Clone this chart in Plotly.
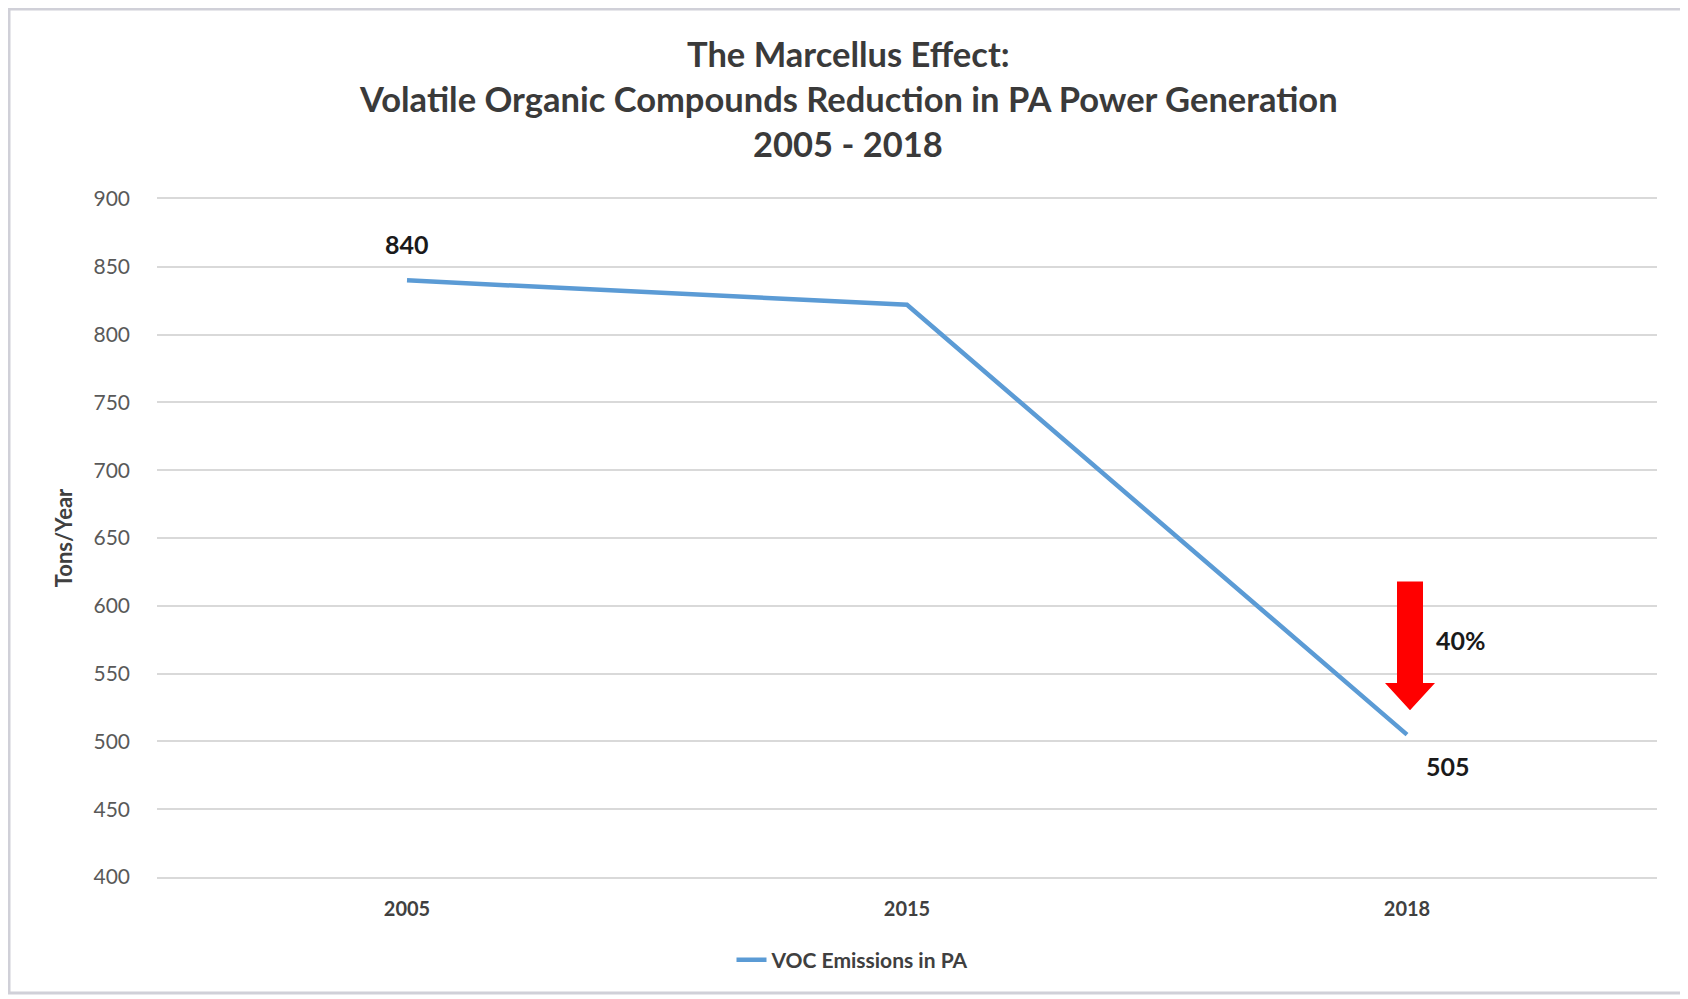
import plotly.graph_objects as go

years = ["2005", "2015", "2018"]
voc_tons = [840, 822, 505]
series_name = "VOC Emissions in PA"
title_lines = ["The Marcellus Effect:",
               "Volatile Organic Compounds Reduction in PA Power Generation",
               "2005 - 2018"]
y_ticks = [400, 450, 500, 550, 600, 650, 700, 750, 800, 850, 900]
reduction_label = "40%"
reduction_label_y = 575
arrow_top, arrow_neck, arrow_tip = 618, 543, 523

FONT = "Lato"
OFF = 8  # page body margin
W, H = 1688, 999
# desired plot area in page pixels: x 157..1657, y 199..877
L, T = 157 - OFF, 199 - OFF
R = W - (1657 - OFF)
B = H - (877 - OFF)
pw, ph = W - L - R, H - T - B


def pgy(py):
    return (H - B - (py - OFF)) / ph


def pgx(px):
    return ((px - OFF) - L) / pw


fig = go.Figure()
fig.add_trace(go.Scatter(
    x=years, y=voc_tons, mode="lines", name=series_name,
    line=dict(color="#5B9BD5", width=4.5),
))

annotations = []
for line, py in zip(title_lines, [54, 99, 144]):
    annotations.append(dict(text=f"<b>{line}</b>", xref="paper", yref="paper",
                            x=pgx(848), y=pgy(py),
                            xanchor="center", yanchor="middle", showarrow=False,
                            font=dict(family=FONT, size=34.5, color="#3a3a3a")))
i0, i2 = 0, len(years) - 1
annotations.append(dict(text=f"<b>{voc_tons[i0]}</b>", x=i0, y=voc_tons[i0],
                        yshift=36, showarrow=False,
                        font=dict(family=FONT, size=25, color="#1a1a1a")))
annotations.append(dict(text=f"<b>{voc_tons[i2]}</b>", x=i2, y=voc_tons[i2],
                        xshift=41, yshift=-31, showarrow=False,
                        font=dict(family=FONT, size=25, color="#1a1a1a")))
annotations.append(dict(text=f"<b>{reduction_label}</b>", x=i2, y=reduction_label_y,
                        xshift=54, showarrow=False,
                        font=dict(family=FONT, size=25, color="#1a1a1a")))

# red down arrow next to the 2018 point (category index 2)
cx = i2 + 0.006
sw, hw = 0.026, 0.05
path = (f"M {cx-sw} {arrow_top} L {cx+sw} {arrow_top} L {cx+sw} {arrow_neck} "
        f"L {cx+hw} {arrow_neck} L {cx} {arrow_tip} L {cx-hw} {arrow_neck} "
        f"L {cx-sw} {arrow_neck} Z")
shapes = [
    dict(type="path", xref="x", yref="y", path=path,
         fillcolor="#FF0000", line=dict(width=0)),
    dict(type="rect", xref="paper", yref="paper",
         x0=pgx(9), x1=pgx(1686), y0=pgy(993), y1=pgy(9),
         line=dict(color="#D0D0D8", width=3), layer="below"),
]

fig.update_layout(
    width=W, height=H,
    margin=dict(l=L, r=R, t=T, b=B),
    paper_bgcolor="white", plot_bgcolor="white",
    font=dict(family=FONT, color="#595959"),
    showlegend=True,
    legend=dict(orientation="h", x=pgx(853), y=pgy(960),
                xanchor="center", yanchor="middle",
                font=dict(family=FONT, size=21, color="#404040", weight="bold")),
    annotations=annotations,
    shapes=shapes,
)
fig.update_xaxes(
    type="category", range=[-0.5, 2.5],
    showgrid=False, zeroline=False, showline=True, mirror=True,
    linecolor="#D9D9D9", linewidth=2,
    ticks="", ticklabelstandoff=13,
    tickfont=dict(family=FONT, size=20, color="#404040", weight="bold"),
)
fig.update_yaxes(
    range=[400, 900], tickvals=y_ticks,
    showgrid=True, gridcolor="#D9D9D9", gridwidth=2, zeroline=False, showline=False,
    ticks="", ticklabelstandoff=26,
    tickfont=dict(family=FONT, size=21, color="#595959"),
    title=dict(text="<b>Tons/Year</b>", standoff=14,
               font=dict(family=FONT, size=22, color="#404040")),
)

fig.write_html("out.html")
